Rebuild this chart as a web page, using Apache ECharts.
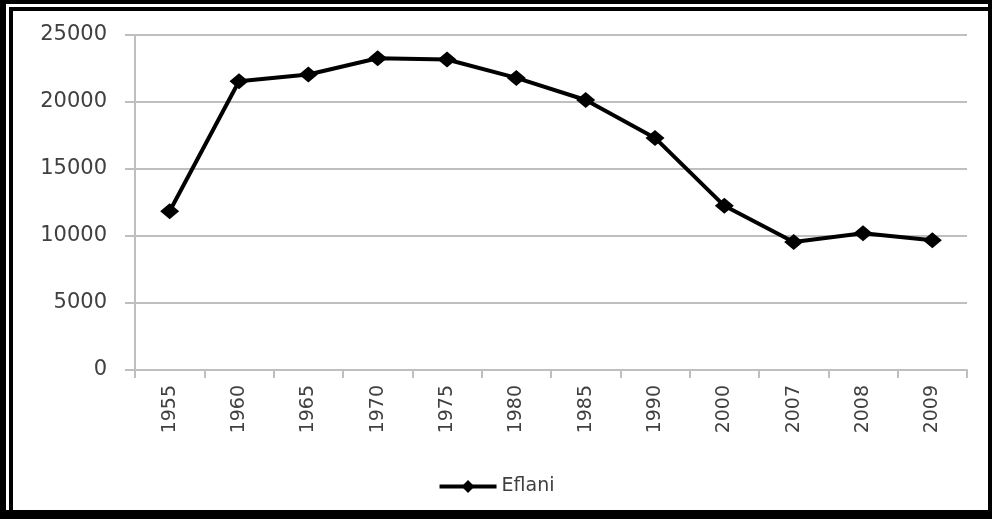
<!DOCTYPE html>
<html><head><meta charset="utf-8">
<script src="https://cdn.jsdelivr.net/npm/echarts@6/dist/echarts.min.js"></script>
<style>html,body{margin:0;padding:0;background:#fff}#c{width:992px;height:519px}</style>
</head><body><div id="c"></div>
<script>
const categories = ['1955','1960','1965','1970','1975','1980','1985','1990','2000','2007','2008','2009'];
const eflani = [11850, 21550, 22050, 23270, 23170, 21800, 20150, 17320, 12250, 9550, 10200, 9680];
const seriesName = 'Eflani';

const chart = echarts.init(document.getElementById('c'));
const font = 'DejaVu Sans';
chart.setOption({
  animation: false,
  backgroundColor: '#fff',
  grid: {left: 135, right: 25, top: 35, bottom: 149, containLabel: false},
  graphic: [
    {type:'rect', shape:{x:0,y:0,width:992,height:4}, style:{fill:'#000'}},
    {type:'rect', shape:{x:0,y:0,width:6,height:519}, style:{fill:'#000'}},
    {type:'rect', shape:{x:988,y:0,width:4,height:519}, style:{fill:'#000'}},
    {type:'rect', shape:{x:0,y:510,width:992,height:9}, style:{fill:'#000'}},
    {type:'rect', shape:{x:9,y:7,width:979,height:4}, style:{fill:'#000'}},
    {type:'rect', shape:{x:9,y:7,width:4,height:503}, style:{fill:'#000'}}
  ],
  legend: {
    data: [seriesName], bottom: 18, left: 'center',
    itemWidth: 57, itemHeight: 16, itemGap: 5,
    lineStyle: {width: 4, color: '#000'},
    textStyle: {fontFamily: font, fontSize: 19, color: '#404040'}
  },
  xAxis: {
    type: 'category', data: categories, boundaryGap: true,
    axisLine: {lineStyle: {color: '#bfbfbf', width: 2}},
    axisTick: {show: true, length: 8, lineStyle: {color: '#bfbfbf', width: 2}},
    axisLabel: {rotate: 90, fontFamily: font, fontSize: 19, color: '#404040', margin: 15}
  },
  yAxis: {
    type: 'value', min: 0, max: 25000, interval: 5000,
    axisLine: {show: true, lineStyle: {color: '#bfbfbf', width: 2}},
    axisTick: {show: true, length: 10, lineStyle: {color: '#bfbfbf', width: 2}},
    splitLine: {lineStyle: {color: '#bfbfbf', width: 2}},
    axisLabel: {fontFamily: font, fontSize: 21, color: '#404040', margin: 28,
      formatter: v => String(v)}
  },
  series: [{
    name: seriesName, type: 'line', data: eflani,
    symbol: 'diamond', symbolSize: [19, 16],
    lineStyle: {color: '#000', width: 4},
    itemStyle: {color: '#000'}
  }]
});
</script></body></html>
